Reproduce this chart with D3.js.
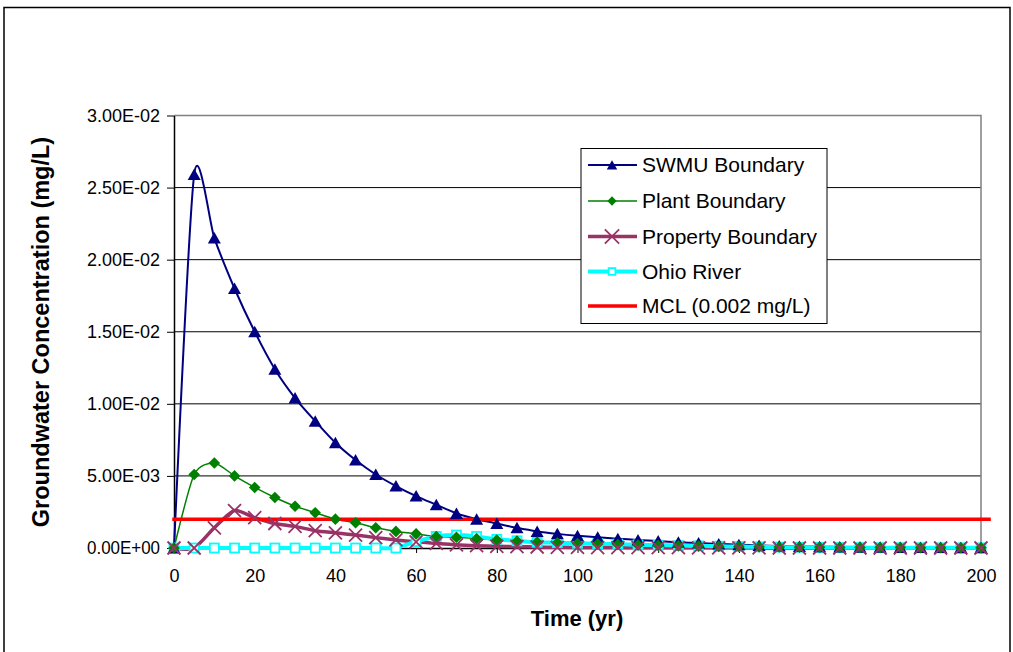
<!DOCTYPE html>
<html>
<head>
<meta charset="utf-8">
<script src="https://cdn.jsdelivr.net/npm/d3@7"></script>
<style>
  html, body { margin: 0; padding: 0; background: #fff; }
  svg { display: block; }
  text { font-family: "Liberation Sans", Arial, sans-serif; }
</style>
</head>
<body>
<script>
// ---- data ----
const time = [0,5,10,15,20,25,30,35,40,45,50,55,60,65,70,75,80,85,90,95,100,105,110,115,120,125,130,135,140,145,150,155,160,165,170,175,180,185,190,195,200];
const swmu = [0,0.0259,0.0215,0.0180,0.0150,0.0124,0.0104,0.0088,0.0073,0.0061,0.0051,0.0043,0.0036,0.0030,0.0024,0.0020,0.0017,0.0014,0.00115,0.00098,0.00085,0.00075,0.00065,0.00055,0.00048,0.00040,0.00034,0.00028,0.00023,0.00018,0.00014,0.00011,0.00009,0.00007,0.00006,0.00005,0.00004,0.00003,0.00003,0.00002,0.00002];
const plant = [0,0.0051,0.0059,0.0050,0.0042,0.0035,0.0029,0.00245,0.0020,0.00175,0.0014,0.00115,0.00098,0.0008,0.00075,0.00065,0.00056,0.00048,0.00041,0.00036,0.00031,0.00027,0.00024,0.0002,0.00018,0.00015,0.00013,0.00011,0.0001,0.00008,0.00007,0.00006,0.00005,0.00004,0.00004,0.00003,0.00003,0.00002,0.00002,0.00002,0.00001];
const property = [0,0,0.0014,0.0026,0.0021,0.0017,0.0015,0.0012,0.00105,0.0009,0.00072,0.00056,0.00043,0.00032,0.00022,0.00016,0.00012,0.00009,0.00007,0.00005,0.00004,0.00003,0.00003,0.00002,0.00002,0.00002,0.00001,0.00001,0.00001,0.00001,0,0,0,0,0,0,0,0,0,0,0];
const ohio = [0,0,0,0,0,0,0,0,0,0,0,0,0.00045,0.0008,0.0009,0.0008,0.0006,0.0005,0.0004,0.00037,0.00033,0.0003,0.00027,0.00022,0.0002,0.00017,0.00015,0.00012,0.0001,0.00008,0.00006,0.00005,0.00004,0.00003,0.00003,0.00002,0.00002,0.00002,0.00001,0.00001,0.00001];
const mclTime = [0, 202];
const mclValue = [0.002, 0.002];
const seriesNames = ["SWMU Boundary","Plant Boundary","Property Boundary","Ohio River","MCL (0.002 mg/L)"];
const xTicks = [0,20,40,60,80,100,120,140,160,180,200];
const yTicks = [0,0.005,0.01,0.015,0.02,0.025,0.03];
const yTickLabels = ["0.00E+00","5.00E-03","1.00E-02","1.50E-02","2.00E-02","2.50E-02","3.00E-02"];
const xTitle = "Time (yr)";
const yTitle = "Groundwater Concentration (mg/L)";

// ---- layout ----
const W = 1013, H = 652;
const svg = d3.select("body").append("svg").attr("width", W).attr("height", H);
const x = d3.scaleLinear().domain([0, 200]).range([174, 981]);
const y = d3.scaleLinear().domain([0, 0.03]).range([548, 115.5]);

svg.append("rect").attr("width", W).attr("height", H).attr("fill", "#fff");
// outer chart border
svg.append("rect").attr("x", 4).attr("y", 7.5).attr("width", 1006).attr("height", 660)
  .attr("fill", "none").attr("stroke", "#000").attr("stroke-width", 1.5);

// gridlines
svg.append("g").selectAll("line").data(yTicks.filter(v => v > 0 && v < 0.03)).join("line")
  .attr("x1", x(0)).attr("x2", x(200)).attr("y1", d => y(d)).attr("y2", d => y(d))
  .attr("stroke", "#000").attr("stroke-width", 1);
// plot border (top/right gray)
svg.append("path")
  .attr("d", `M${x(0)},${y(0.03)}H${x(200)}V${y(0)}`)
  .attr("fill", "none").attr("stroke", "#808080").attr("stroke-width", 1.5);

// axes
const yAxis = svg.append("g").attr("transform", `translate(${x(0)},0)`)
  .call(d3.axisLeft(y).tickValues(yTicks).tickFormat((d, i) => yTickLabels[i]).tickSize(7).tickSizeOuter(0).tickPadding(7));
const xAxis = svg.append("g").attr("transform", `translate(0,${y(0)})`)
  .call(d3.axisBottom(x).tickValues(xTicks).tickSize(5).tickSizeOuter(0).tickPadding(16));
[yAxis, xAxis].forEach(g => {
  g.select(".domain").attr("stroke", "#000").attr("stroke-width", 1.5);
  g.selectAll(".tick line").attr("stroke", "#000").attr("stroke-width", 1);
  g.selectAll(".tick text").attr("font-size", 18).attr("fill", "#000")
    .attr("font-family", '"Liberation Sans", Arial, sans-serif');
});
yAxis.selectAll(".tick text").attr("textLength", 73).attr("lengthAdjust", "spacingAndGlyphs");

// axis titles
svg.append("text").attr("x", 577).attr("y", 626).attr("text-anchor", "middle")
  .attr("font-size", 22).attr("font-weight", "bold").text(xTitle);
svg.append("text").attr("transform", `translate(49,${332}) rotate(-90)`).attr("text-anchor", "middle")
  .attr("font-size", 23.5).attr("font-weight", "bold").text(yTitle);

// ---- series ----
const series = [
  {name: seriesNames[0], t: time, v: swmu, color: "#000080", width: 2, marker: "tri"},
  {name: seriesNames[1], t: time, v: plant, color: "#008000", width: 1.5, marker: "dia"},
  {name: seriesNames[2], t: time, v: property, color: "#993366", width: 3.5, marker: "x"},
  {name: seriesNames[3], t: time, v: ohio, color: "#00FFFF", width: 4, marker: "sq"},
  {name: seriesNames[4], t: mclTime, v: mclValue, color: "#FF0000", width: 3.5, marker: null}
];
const line = d3.line().x(d => x(d[0])).y(d => y(d[1])).curve(d3.curveCardinal.tension(0.3));

const gLines = svg.append("g");
series.forEach(s => {
  gLines.append("path").datum(s.t.map((t, i) => [t, s.v[i]]))
    .attr("d", line).attr("fill", "none").attr("stroke", s.color)
    .attr("stroke-width", s.width).attr("stroke-linejoin", "round")
    .attr("stroke-linecap", s.marker ? "round" : "square");
});

function drawMarker(g, type, color, k) {
  if (type === "tri") {
    g.append("path").attr("d", `M0,${-6*k}L${6.5*k},${5.5*k}L${-6.5*k},${5.5*k}Z`).attr("fill", color);
  } else if (type === "dia") {
    g.append("path").attr("d", `M0,${-5.8*k}L${5.8*k},0L0,${5.8*k}L${-5.8*k},0Z`).attr("fill", color);
  } else if (type === "x") {
    g.append("path").attr("d", `M${-6.5*k},${-6.5*k}L${6.5*k},${6.5*k}M${-6.5*k},${6.5*k}L${6.5*k},${-6.5*k}`)
      .attr("stroke", color).attr("stroke-width", 1.8).attr("fill", "none");
  } else if (type === "sq") {
    g.append("rect").attr("x", -4.5*k).attr("y", -4.5*k).attr("width", 9*k).attr("height", 9*k)
      .attr("fill", "#fff").attr("stroke", color).attr("stroke-width", 1.8);
  }
}
const markerOrder = [3, 0, 1, 2];
const gMarks = svg.append("g");
markerOrder.forEach(si => {
  const s = series[si];
  s.t.forEach((t, i) => {
    const g = gMarks.append("g").attr("transform", `translate(${x(t)},${y(s.v[i])})`);
    drawMarker(g, s.marker, s.color, 1);
  });
});

// ---- legend ----
const leg = svg.append("g");
leg.append("rect").attr("x", 581).attr("y", 148.5).attr("width", 246).attr("height", 175)
  .attr("fill", "#fff").attr("stroke", "#000").attr("stroke-width", 1);
const legY = [165, 201, 236.5, 271.5, 306];
const legScale = {tri: 0.8, dia: 0.8, x: 1.1, sq: 0.75};
series.forEach((s, i) => {
  const g = leg.append("g").attr("transform", `translate(0,${legY[i]})`);
  g.append("line").attr("x1", 588).attr("x2", 637).attr("y1", 0).attr("y2", 0)
    .attr("stroke", s.color).attr("stroke-width", s.width);
  if (s.marker) {
    const m = g.append("g").attr("transform", "translate(612,0)");
    drawMarker(m, s.marker, s.color, legScale[s.marker]);
  }
  g.append("text").attr("x", 642).attr("y", 0).attr("dy", "0.35em")
    .attr("font-size", 21).attr("fill", "#000").text(s.name);
});
</script>
</body>
</html>
